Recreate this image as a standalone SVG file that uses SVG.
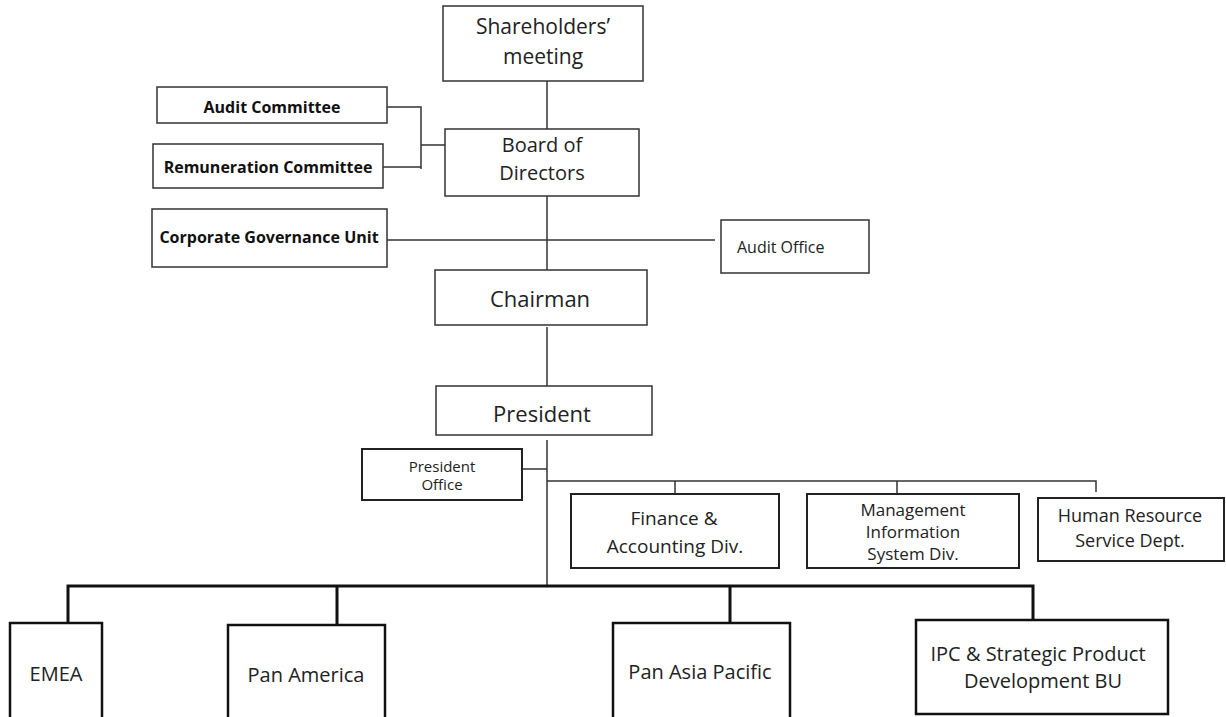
<svg xmlns="http://www.w3.org/2000/svg" width="1226" height="717" viewBox="0 0 1226 717">
<style>
.b1{fill:#fff;stroke:#333;stroke-width:1.5}
.b2{fill:#fff;stroke:#222;stroke-width:2}
.b3{fill:#fff;stroke:#111;stroke-width:2.5}
.t{font-family:"Open Sans","Noto Sans",sans-serif;fill:#222;text-anchor:middle}
.tb{font-family:"Open Sans","Noto Sans",sans-serif;font-weight:bold;fill:#111;text-anchor:middle;font-size:16px}
.l1{fill:none;stroke:#333;stroke-width:1.5}
.l3{fill:none;stroke:#111;stroke-width:3}
</style>
<rect width="1226" height="717" fill="#fff"/>
<g id="connectors">
<path class="l1" d="M547,81V129"/>
<path class="l1" d="M387,107H421V169M383,167H421M421,145H445"/>
<path class="l1" d="M547,196V270"/>
<path class="l1" d="M387,240H715"/>
<path class="l1" d="M547,327V386"/>
<path class="l1" d="M547,440V585"/>
<path class="l1" d="M519,469H547"/>
<path class="l1" d="M547,481H1096V492M675,481V494M897,481V494"/>
<path class="l3" d="M68,623V586H1033V620M337,586V625M730,586V623"/>
</g>
<g id="shareholders"><rect class="b1" x="443" y="6" width="200" height="75"/><text class="t" font-size="21" x="543" y="34">Shareholders’</text><text class="t" font-size="21" x="543" y="64">meeting</text></g>
<g id="audit-committee"><rect class="b1" x="157" y="87" width="230" height="36"/><text class="tb" x="272" y="113">Audit Committee</text></g>
<g id="remuneration-committee"><rect class="b1" x="153" y="144" width="230" height="44"/><text class="tb" x="268" y="173">Remuneration Committee</text></g>
<g id="board"><rect class="b1" x="445" y="129" width="194" height="67"/><text class="t" font-size="20" x="542" y="152">Board of</text><text class="t" font-size="20" x="542" y="180">Directors</text></g>
<g id="corporate-governance"><rect class="b1" x="152" y="209" width="235" height="58"/><text class="tb" x="269" y="243">Corporate Governance Unit</text></g>
<g id="audit-office"><rect class="b1" x="721" y="220" width="148" height="53"/><text class="t" font-size="16" x="737" y="253" style="text-anchor:start">Audit Office</text></g>
<g id="chairman"><rect class="b1" x="435" y="270" width="212" height="55"/><text class="t" font-size="22" x="540" y="307">Chairman</text></g>
<g id="president"><rect class="b1" x="436" y="386" width="216" height="49"/><text class="t" font-size="22" x="542" y="422">President</text></g>
<g id="president-office"><rect class="b2" x="362" y="449" width="160" height="51"/><text class="t" font-size="15" x="442" y="472">President</text><text class="t" font-size="15" x="442" y="490">Office</text></g>
<g id="finance"><rect class="b2" x="571" y="494" width="208" height="74"/><text class="t" font-size="19" x="674" y="525">Finance &amp;</text><text class="t" font-size="19" x="675" y="553">Accounting Div.</text></g>
<g id="mis"><rect class="b2" x="807" y="494" width="212" height="74"/><text class="t" font-size="17" x="913" y="516">Management</text><text class="t" font-size="17" x="913" y="538">Information</text><text class="t" font-size="17" x="913" y="560">System Div.</text></g>
<g id="hr"><rect class="b2" x="1038" y="498" width="186" height="63"/><text class="t" font-size="18" x="1130" y="522">Human Resource</text><text class="t" font-size="18" x="1130" y="547">Service Dept.</text></g>
<g id="emea"><rect class="b3" x="10" y="623" width="92" height="100"/><text class="t" font-size="20" x="56" y="681">EMEA</text></g>
<g id="pan-america"><rect class="b3" x="228" y="625" width="157" height="100"/><text class="t" font-size="20" x="306" y="682">Pan America</text></g>
<g id="pan-asia-pacific"><rect class="b3" x="613" y="623" width="177" height="100"/><text class="t" font-size="20" x="700" y="679">Pan Asia Pacific</text></g>
<g id="ipc"><rect class="b3" x="916" y="620" width="252" height="94"/><text class="t" font-size="20" x="1038" y="661">IPC &amp; Strategic Product</text><text class="t" font-size="20" x="1043" y="688">Development BU</text></g>
</svg>
